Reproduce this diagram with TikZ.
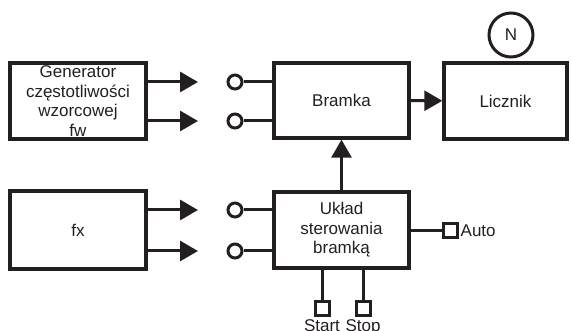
\documentclass[tikz,border=0pt]{standalone}
\usepackage{fontspec}
\setmainfont{Liberation Sans}
\usetikzlibrary{arrows.meta}
\definecolor{ink}{RGB}{35,31,32}
\begin{document}
\begin{tikzpicture}[x=1pt,y=-1pt,
  every node/.style={text=ink},
  blk/.style={draw=ink,line width=3.4pt,minimum width=#1,align=center,inner sep=0pt,
    font=\fontsize{17}{19.5}\selectfont},
  conn/.style={draw=ink,line width=3pt},
  arr/.style={conn,-{Triangle[length=18pt,width=20pt]}},
  term/.style={circle,draw=ink,fill=white,line width=3pt,minimum size=14pt,inner sep=0pt},
  sq/.style={rectangle,draw=ink,fill=white,line width=3pt,minimum size=14pt,inner sep=0pt},
  lbl/.style={font=\fontsize{17}{19}\selectfont,inner sep=0pt}]
\useasboundingbox (0,0) rectangle (574,331);
% blocks
\node[blk=136pt,minimum height=76pt] (gen) at (78,101) {Generator\\częstotliwości\\wzorcowej\\fw};
\node[blk=136pt,minimum height=78pt] (fx) at (78,230) {fx};
\node[blk=135pt,minimum height=75pt] (br) at (341.5,100.5) {Bramka};
\node[blk=123pt,minimum height=76pt] (lic) at (505.5,101) {Licznik};
\node[blk=135pt,minimum height=76pt] (uk) at (341.5,230) {Układ\\sterowania\\bramką};
\node[circle,draw=ink,line width=3pt,minimum size=44pt,inner sep=0pt,lbl] (n) at (511,35) {N};
% terminals
\node[term] (c1) at (235,82) {};
\node[term] (c2) at (235,121) {};
\node[term] (c3) at (235,210) {};
\node[term] (c4) at (235,251) {};
\coordinate (t1) at (198,82);
\coordinate (t2) at (198,121);
\coordinate (t3) at (198,210);
\coordinate (t4) at (198,251);
\node[sq] (sa) at (450,231) {};
\node[sq] (ss) at (322,309) {};
\node[sq] (sp) at (363,309) {};
\node[lbl,anchor=west] (la) at ([xshift=2pt]sa.east) {Auto};
\node[lbl,anchor=north] (ls) at ([yshift=-1.5pt]ss.south) {Start};
\node[lbl,anchor=north] (lp) at ([yshift=-1.5pt]sp.south) {Stop};
% connectors
\draw[arr] (gen.east |- t1) -- (t1);
\draw[arr] (gen.east |- t2) -- (t2);
\draw[arr] (fx.east |- t3) -- (t3);
\draw[arr] (fx.east |- t4) -- (t4);
\draw[conn] (c1) -- (c1 -| br.west);
\draw[conn] (c2) -- (c2 -| br.west);
\draw[conn] (c3) -- (c3 -| uk.west);
\draw[conn] (c4) -- (c4 -| uk.west);
\draw[arr] (br) -- (lic);
\draw[arr] (uk.north) -- (br.south);
\draw[conn] (uk.east |- sa) -- (sa);
\draw[conn] (uk.south -| ss) -- (ss);
\draw[conn] (uk.south -| sp) -- (sp);
\end{tikzpicture}
\end{document}
